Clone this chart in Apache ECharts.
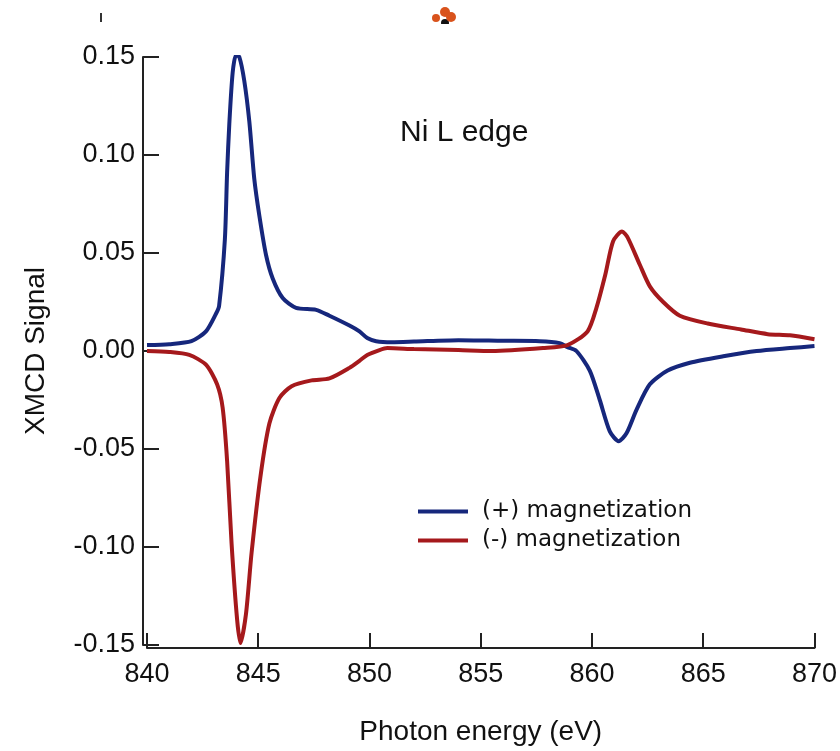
<!DOCTYPE html>
<html>
<head>
<meta charset="utf-8">
<title>Ni L edge XMCD</title>
<script src="https://cdn.jsdelivr.net/npm/echarts@6/dist/echarts.min.js"></script>
<style>
  html, body { margin: 0; padding: 0; background: #fff; }
  #chart { width: 840px; height: 751px; }
</style>
</head>
<body>
<div id="chart"></div>
<script>
// (+) magnetization: photon energy (eV) and XMCD signal
var energyPlus = [840.0, 841.0, 842.0, 842.65, 843.1, 843.24, 843.5, 843.6, 843.7, 843.85, 844.0, 844.15,
  844.37, 844.6, 844.82, 845.05, 845.35, 845.65, 846.1, 846.7, 847.6, 848.2, 849.1, 849.55, 849.9,
  850.3, 851.0, 852.0, 854.0, 856.0, 857.65, 858.55, 858.9, 859.3, 859.9, 860.35, 860.8, 861.2,
  861.55, 862.0, 862.6, 863.4, 864.4, 865.9, 867.4, 868.9, 870.0];
var signalPlus = [0.003, 0.0035, 0.005, 0.010, 0.019, 0.023, 0.057, 0.091, 0.116, 0.142, 0.151, 0.150,
  0.138, 0.117, 0.088, 0.069, 0.049, 0.037, 0.027, 0.022, 0.021, 0.018, 0.013, 0.010, 0.0066,
  0.005, 0.0045, 0.0048, 0.0055, 0.0052, 0.005, 0.004, 0.002, 0.000, -0.010, -0.025, -0.041, -0.046,
  -0.042, -0.030, -0.017, -0.010, -0.006, -0.0027, 0.000, 0.0015, 0.0025];

// (-) magnetization
var energyMinus = [840.0, 841.0, 841.9, 842.65, 843.15, 843.4, 843.6, 843.8, 844.05, 844.2, 844.45, 844.7,
  845.1, 845.5, 845.95, 846.5, 847.4, 848.2, 849.1, 849.55, 849.9, 850.45, 850.8, 852.0, 854.0,
  855.5, 857.8, 858.9, 859.8, 860.2, 860.6, 860.95, 861.35, 861.6, 862.15, 862.6, 863.2, 863.95,
  865.2, 866.7, 867.9, 868.9, 870.0];
var signalMinus = [0.000, -0.0005, -0.002, -0.007, -0.017, -0.029, -0.056, -0.098, -0.137, -0.149, -0.134, -0.103,
  -0.064, -0.037, -0.024, -0.018, -0.015, -0.014, -0.0086, -0.005, -0.002, 0.0005, 0.0015, 0.001, 0.0005,
  0.000, 0.0015, 0.003, 0.010, 0.022, 0.039, 0.056, 0.061, 0.058, 0.044, 0.033, 0.025, 0.018,
  0.014, 0.011, 0.0086, 0.008, 0.006];

var seriesNames = ["(+) magnetization", "(-) magnetization"];
var seriesColors = ["#16277c", "#a5191c"];

function pairs(xs, ys) {
  return xs.map(function (x, i) { return [x, ys[i]]; });
}

var chart = echarts.init(document.getElementById("chart"));
var fontMain = "Liberation Sans, Arial, sans-serif";

var option = {
  backgroundColor: "#fff",
  animation: false,
  title: {
    text: "Ni L edge",
    left: 400,
    top: 118,
    padding: 0,
    textStyle: { fontFamily: fontMain, fontSize: 30, fontWeight: "normal", color: "#111" }
  },
  legend: {
    orient: "vertical",
    left: 418,
    top: 500,
    padding: 0,
    itemWidth: 50,
    itemHeight: 4,
    itemGap: 6,
    icon: "rect",
    data: seriesNames,
    textStyle: { fontFamily: "DejaVu Sans, Verdana, sans-serif", fontSize: 23, color: "#111", padding: [0, 0, 0, 9] }
  },
  grid: { left: 147, right: 25, top: 57, bottom: 102 },
  xAxis: {
    type: "value",
    min: 840,
    max: 870,
    interval: 5,
    offset: 3,
    name: "Photon energy (eV)",
    nameLocation: "middle",
    nameGap: 70,
    nameTextStyle: { fontFamily: fontMain, fontSize: 28, color: "#111" },
    axisLine: { onZero: false, lineStyle: { color: "#222", width: 2 } },
    axisTick: { inside: true, length: 15, lineStyle: { color: "#222", width: 2 } },
    axisLabel: { fontFamily: fontMain, fontSize: 27, color: "#111", margin: 13 },
    splitLine: { show: false }
  },
  yAxis: {
    type: "value",
    min: -0.15,
    max: 0.15,
    interval: 0.05,
    offset: 4,
    name: "XMCD Signal",
    nameLocation: "middle",
    nameGap: 93,
    nameTextStyle: { fontFamily: fontMain, fontSize: 28, color: "#111" },
    axisLine: { show: true, onZero: false, lineStyle: { color: "#222", width: 2 } },
    axisTick: { show: true, inside: true, length: 16, lineStyle: { color: "#222", width: 2 } },
    axisLabel: {
      fontFamily: fontMain, fontSize: 27, color: "#111", margin: 8,
      formatter: function (v) { return v.toFixed(2); }
    },
    splitLine: { show: false }
  },
  series: [
    {
      name: seriesNames[0],
      type: "line",
      data: pairs(energyPlus, signalPlus),
      smooth: 0.25,
      showSymbol: false,
      color: seriesColors[0],
      lineStyle: { width: 4, color: seriesColors[0] }
    },
    {
      name: seriesNames[1],
      type: "line",
      data: pairs(energyMinus, signalMinus),
      smooth: 0.25,
      showSymbol: false,
      color: seriesColors[1],
      lineStyle: { width: 4, color: seriesColors[1] }
    }
  ],
  // small leftovers cut off at the top of the original figure
  graphic: [
    { type: "line", shape: { x1: 101, y1: 13, x2: 101, y2: 22 }, style: { stroke: "#333", lineWidth: 2 } },
    { type: "circle", shape: { cx: 445, cy: 23, r: 4 }, style: { fill: "#111" } },
    { type: "circle", shape: { cx: 436, cy: 18, r: 4 }, style: { fill: "#d9531c" } },
    { type: "circle", shape: { cx: 445, cy: 12, r: 5 }, style: { fill: "#d9531c" } },
    { type: "circle", shape: { cx: 451, cy: 17, r: 5 }, style: { fill: "#d9531c" } },
    { type: "rect", shape: { x: 425, y: 24, width: 35, height: 8 }, style: { fill: "#fff" } }
  ]
};

chart.setOption(option);
window.addEventListener("resize", function () { chart.resize(); });
</script>
</body>
</html>
